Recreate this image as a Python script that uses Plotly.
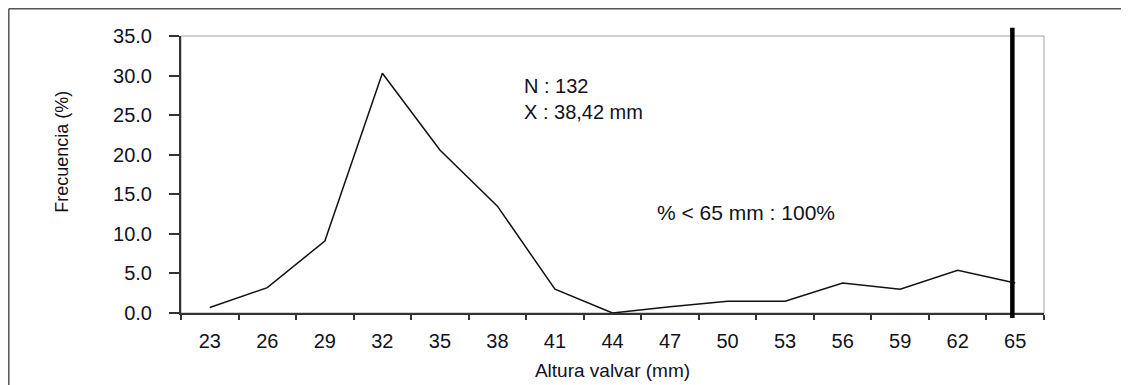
import plotly.graph_objects as go

# Data
sizes = ["23", "26", "29", "32", "35", "38", "41", "44", "47", "50", "53", "56", "59", "62", "65"]
freq = [0.7, 3.2, 9.1, 30.3, 20.6, 13.5, 3.0, 0.0, 0.8, 1.5, 1.5, 3.8, 3.0, 5.4, 3.8]
y_ticks = [0, 5, 10, 15, 20, 25, 30, 35]
cutoff = "65"
stats_text = "N : 132<br>X : 38,42 mm"
pct_text = "% &lt; 65 mm : 100%"

FONT = "Liberation Sans, Arial, sans-serif"
TXT = "#111122"

W, H = 1121, 377
ML, MR, MT, MB = 173, 85, 28, 72
PW, PH = W - ML - MR, H - MT - MB


def px_x(p):  # figure pixel -> paper x
    return (p - ML) / PW


def px_y(p):  # figure pixel -> paper y
    return (H - MB - p) / PH


fig = go.Figure()
fig.add_trace(go.Scatter(
    x=sizes, y=freq, mode="lines",
    line=dict(color="#111111", width=1.5),
    showlegend=False, cliponaxis=False,
))

# plot area box (gray top/right)
fig.add_shape(type="rect", xref="paper", yref="paper", x0=0, x1=1, y0=0, y1=1,
              line=dict(color="#a0a0a0", width=1), layer="below")
# outer frame (left and top lines)
fig.add_shape(type="line", xref="paper", yref="paper", x0=px_x(0.8), x1=px_x(0.8), y0=px_y(0.8), y1=px_y(H + 5),
              line=dict(color="#555555", width=1.5))
fig.add_shape(type="line", xref="paper", yref="paper", x0=px_x(0.8), x1=px_x(W + 5), y0=px_y(0.8), y1=px_y(0.8),
              line=dict(color="#555555", width=1.5))
# thick cutoff line at the 65 mm category
idx = sizes.index(cutoff)
xc = (idx + 0.45) / len(sizes)
fig.add_shape(type="line", xref="paper", yref="paper", x0=xc, x1=xc, y0=-0.018, y1=1.03,
              line=dict(color="black", width=4.5))

fig.add_annotation(text=stats_text, xref="paper", yref="paper", x=0.395, y=0.773,
                   xanchor="left", yanchor="middle", align="left", showarrow=False,
                   font=dict(family=FONT, size=20, color=TXT))
fig.add_annotation(text=pct_text, xref="paper", yref="paper", x=0.549, y=0.362,
                   xanchor="left", yanchor="middle", align="left", showarrow=False,
                   font=dict(family=FONT, size=21, color=TXT))
fig.add_annotation(text="Frecuencia (%)", xref="paper", yref="paper", x=-0.138, y=0.582,
                   xanchor="center", yanchor="middle", textangle=-90, showarrow=False,
                   font=dict(family=FONT, size=18, color=TXT))

fig.update_layout(
    width=W, height=H,
    margin=dict(l=ML, r=MR, t=MT, b=MB),
    paper_bgcolor="white", plot_bgcolor="white",
    font=dict(family=FONT, size=20, color=TXT),
    showlegend=False,
)
fig.update_xaxes(
    type="category", categoryorder="array", categoryarray=sizes,
    range=[-0.5, len(sizes) - 0.5], automargin=False,
    tickson="boundaries", ticks="outside", ticklen=5, tickwidth=2, tickcolor="#333333",
    showline=True, linecolor="#333333", linewidth=2, showgrid=False, zeroline=False,
    tickfont=dict(family=FONT, size=20, color=TXT), ticklabelstandoff=9,
    title=dict(text="Altura valvar (mm)", standoff=13, font=dict(family=FONT, size=19, color=TXT)),
)
fig.update_yaxes(
    range=[0, 35], tickvals=y_ticks, tickformat=".1f", automargin=False,
    ticks="outside", ticklen=10, tickwidth=2, tickcolor="#333333",
    showline=True, linecolor="#333333", linewidth=2, showgrid=False, zeroline=False,
    tickfont=dict(family=FONT, size=20, color=TXT), ticklabelstandoff=13,
)

fig.write_html("out.html")
